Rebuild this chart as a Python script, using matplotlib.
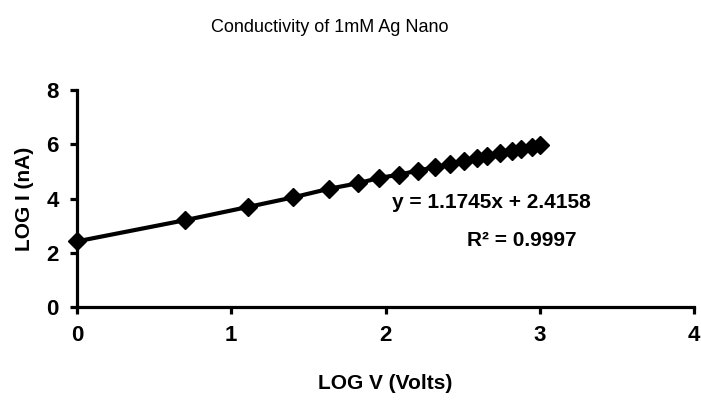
import matplotlib.pyplot as plt

# log V (Volts) and log I (nA)
log_v = [0.0, 0.70, 1.11, 1.40, 1.635, 1.82, 1.96, 2.09, 2.21, 2.32, 2.42,
         2.51, 2.59, 2.66, 2.74, 2.82, 2.88, 2.95, 3.0]
log_i = [2.42, 3.20, 3.69, 4.04, 4.36, 4.56, 4.76, 4.88, 5.03, 5.15, 5.26,
         5.37, 5.49, 5.57, 5.67, 5.76, 5.83, 5.89, 5.98]
x_ticks = [0, 1, 2, 3, 4]
y_ticks = [0, 2, 4, 6, 8]

fnt = 'Liberation Sans'

fig = plt.figure(figsize=(7.01, 4.05), dpi=100)
ax = fig.add_axes([77/701, 98/405, 617/701, 217/405])

ax.plot(log_v, log_i, color='k', lw=3, marker='D', ms=9.5, clip_on=False, zorder=3)

ax.set_xlim(0, 4)
ax.set_ylim(0, 8)
ax.set_xticks(x_ticks)
ax.set_yticks(y_ticks)
for s in ['top', 'right']:
    ax.spines[s].set_visible(False)
for s in ['left', 'bottom']:
    ax.spines[s].set_linewidth(2.3)
ax.tick_params(width=2.3, length=5, direction='out', pad=8)
for lab in ax.get_xticklabels() + ax.get_yticklabels():
    lab.set_fontfamily(fnt)
    lab.set_fontweight('bold')
    lab.set_fontsize(16)

ax.set_xlabel('LOG V (Volts)', family=fnt, fontweight='bold', fontsize=15, labelpad=20)
ax.set_ylabel('LOG I (nA)', family=fnt, fontweight='bold', fontsize=15, labelpad=9)

fig.text(330/701, 1 - 28/405, 'Conductivity of 1mM Ag Nano', family=fnt,
         fontsize=13, ha='center', va='center')

ax.text(2.04, 3.84, 'y = 1.1745x + 2.4158', family=fnt, fontweight='bold',
        fontsize=15, ha='left', va='center')
ax.text(2.53, 2.47, 'R\u00b2 = 0.9997', family=fnt, fontweight='bold',
        fontsize=15, ha='left', va='center')

fig.savefig('out.png', dpi=100)
